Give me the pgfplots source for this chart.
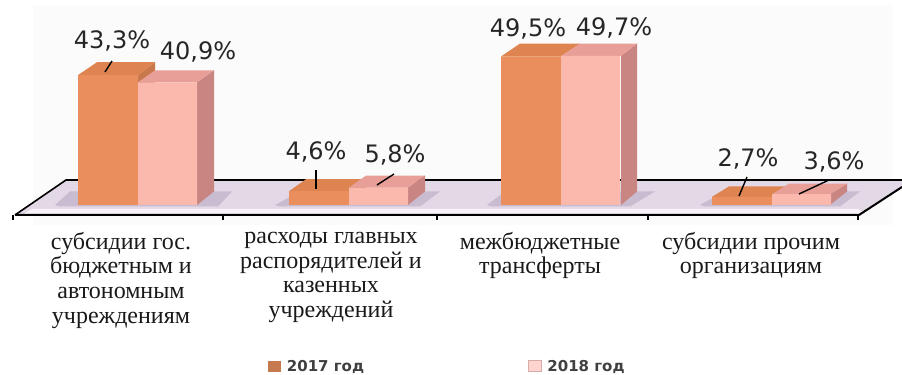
\documentclass[border=0pt]{standalone}
\usepackage{pgfplots}
\pgfplotsset{compat=1.18}
\usepackage{fontspec}
\setmainfont{Liberation Serif}
\newfontfamily\lab{DejaVu Sans}
\definecolor{orF}{HTML}{E98E5C}\definecolor{orT}{HTML}{DD8451}\definecolor{orS}{HTML}{C9784C}
\definecolor{piF}{HTML}{FBB9AE}\definecolor{piT}{HTML}{E89F97}\definecolor{piS}{HTML}{C98582}
\definecolor{flA}{HTML}{E3D8E6}\definecolor{flB}{HTML}{C9BBD0}
% side and top faces: x left, x right, x left back, x right back, value, value+depth
\newcommand\faces[8]{%
 \addplot[fill=#7,draw=none,forget plot] coordinates {(#2,0) (#4,4.5) (#4,#6) (#2,#5)} --cycle;
 \addplot[fill=#8,draw=none,forget plot] coordinates {(#1,#5) (#3,#6) (#4,#6) (#2,#5)} --cycle;
}
\newcommand\poly[2]{\addplot[fill=#1,draw=none,forget plot] coordinates {#2} --cycle;}
\newcommand\PX[2]{(axis cs:#1,{(205-#2)/3})}
\begin{document}
\begin{tikzpicture}
\path (0,0) rectangle (902pt,372pt);
\begin{axis}[
  scale only axis, width=902pt, height=372pt,
  at={(0,0)},anchor=south west,
  xmin=0, xmax=902, ymin=-55.667, ymax=68.333,
  hide axis, clip=true,
  legend style={at={(0.297,-0.008)},anchor=south west,draw=none,fill=none,
    font=\lab\bfseries\fontsize{15}{16}\selectfont,text=black!75,inner sep=0pt,outer sep=0pt,
    /tikz/every even column/.append style={column sep=162pt}},
  legend columns=2,
]
% panel and floor
\poly{black!1.5}{(33,66.7) (893,66.7) (893,-6.7) (33,-6.7)}
\poly{flA}{(15,-3.33) (66,8.33) (902,8.33) (902,6) (859,-3.67)}
\poly{white!70!flA}{(32,-1.3) (858,-1.3) (866,-3.33) (22,-3.33)}
\poly{flB}{(55,0) (70,4.5) (232,4.5) (218,-0.5) (60,-0.5)}
\poly{flB}{(275,0) (300,4.5) (440,4.5) (420,-0.5) (280,-0.5)}
\poly{flB}{(487,0) (505,4.5) (655,4.5) (630,-0.5) (492,-0.5)}
\poly{flB}{(700,0) (725,4.5) (860,4.5) (840,-0.5) (705,-0.5)}
\addplot[black,line width=1.6pt,forget plot] coordinates {(15,-3.33) (66,8.33) (902,8.33)};
\addplot[black,line width=2pt,forget plot] coordinates {(15,-3.33) (859,-3.33) (902,6)};
\addplot[black,line width=1.5pt,forget plot] coordinates {(13,-3.33) (13,-5)};
\addplot[black,line width=1.5pt,forget plot] coordinates {(223,-3.33) (223,-5)};
\addplot[black,line width=1.5pt,forget plot] coordinates {(437,-3.33) (437,-5)};
\addplot[black,line width=1.5pt,forget plot] coordinates {(648,-3.33) (648,-5)};
\addplot[black,line width=1.5pt,forget plot] coordinates {(858,-3.33) (858,-5)};
% orange series: depth faces
\faces{78}{138}{97}{155}{43.3}{47.6}{orS}{orT}
\faces{289}{349}{306}{366}{4.6}{8.6}{orS}{orT}
\faces{501}{561}{520}{580}{49.5}{53.8}{orS}{orT}
\faces{712}{772}{729}{789}{2.7}{6.2}{orS}{orT}
\addplot[ybar,bar width=60,bar shift=-30,fill=orF,draw=none,
  legend image code/.code={\path (0pt,0pt) (17pt,0pt);\fill[orF!85!black] (0pt,-5pt) rectangle (13pt,6pt);}]
  coordinates {(138,43.3) (349,4.6) (561,49.5) (772,2.7)};
\addlegendentry{2017 год}
% pink series
\faces{138}{197}{155}{214}{40.9}{44.9}{piS}{piT}
\faces{349}{408}{366}{425}{5.8}{9.8}{piS}{piT}
\faces{561}{621}{580}{637}{49.7}{53.8}{piS}{piT}
\faces{772}{830}{789}{847}{3.6}{7.1}{piS}{piT}
\addplot[ybar,bar width=59,bar shift=29.5,fill=piF,draw=none,
  legend image code/.code={\path (0pt,0pt) (17pt,0pt);\fill[piF!60!white,draw=piS!70,line width=.6pt] (0pt,-5pt) rectangle (13pt,6pt);}]
  coordinates {(138,40.9) (349,5.8) (561,49.7) (772,3.6)};
\addlegendentry{2018 год}
% leaders
\draw[black,line width=1.4pt] \PX{105}{72} -- \PX{112}{61};
\draw[black,line width=1.4pt] \PX{316}{189} -- \PX{316}{170};
\draw[black,line width=1.4pt] \PX{377}{185} -- \PX{394}{174};
\draw[black,line width=1.4pt] \PX{739}{196} -- \PX{747}{177};
\draw[black,line width=1.4pt] \PX{799}{194} -- \PX{829}{180};
% data labels
\tikzset{dl/.style={font=\lab\fontsize{24}{26}\selectfont,text=black!85,inner sep=0pt}}
\node[dl] at \PX{112}{41} {43,3\%};
\node[dl] at \PX{198}{52} {40,9\%};
\node[dl] at \PX{316}{152} {4,6\%};
\node[dl] at \PX{395}{155} {5,8\%};
\node[dl] at \PX{528}{29} {49,5\%};
\node[dl] at \PX{614}{28} {49,7\%};
\node[dl] at \PX{748}{159} {2,7\%};
\node[dl] at \PX{834}{162} {3,6\%};
% category labels
\tikzset{cl/.style={font=\fontsize{24}{24.6}\selectfont,align=center,anchor=north,inner sep=0pt,text=black!90}}
\node[cl] at \PX{121}{232} {субсидии гос.\\бюджетным и\\автономным\\учреждениям};
\node[cl] at \PX{331}{232} {расходы главных\\распорядителей и\\казенных\\учреждений};
\node[cl] at \PX{540}{232} {межбюджетные\\трансферты};
\node[cl] at \PX{751}{232} {субсидии прочим\\организациям};
\end{axis}
\end{tikzpicture}
\end{document}
